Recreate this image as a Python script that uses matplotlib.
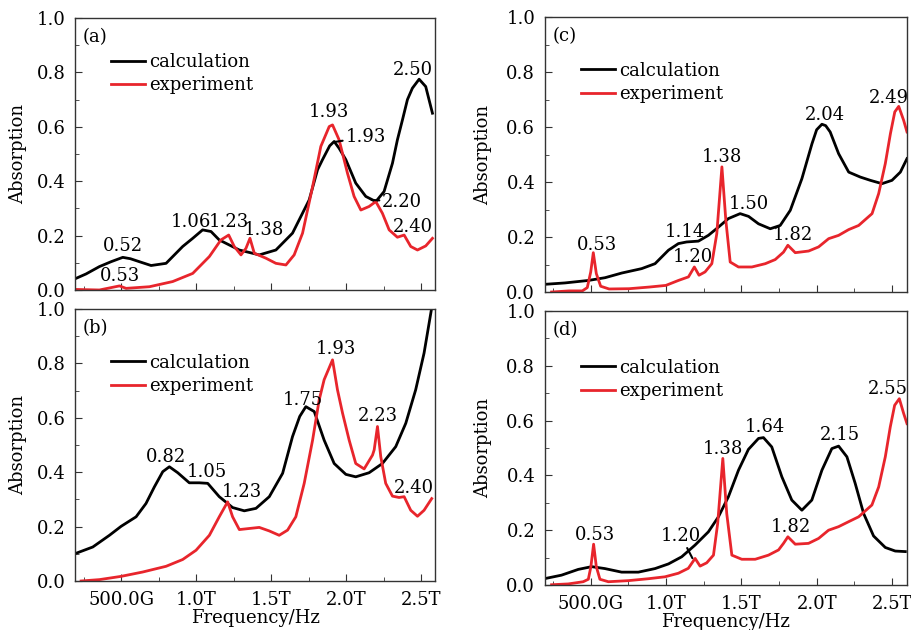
import matplotlib
matplotlib.use("Agg")
import matplotlib.pyplot as plt
from matplotlib.ticker import MultipleLocator, FuncFormatter

plt.rcParams["font.family"] = ["DejaVu Serif"]

RED = "#e8252c"

# (a)
a_calc_x = [0.198, 0.264, 0.353, 0.431, 0.509, 0.56, 0.62, 0.698, 0.798, 0.909, 0.976, 1.042,
            1.098, 1.153, 1.287, 1.42, 1.531, 1.642, 1.753, 1.809, 1.842, 1.89, 1.92, 1.953,
            1.998, 2.064, 2.131, 2.198, 2.253, 2.309, 2.342, 2.376, 2.409, 2.442, 2.487, 2.531,
            2.576]
a_calc_y = [0.043, 0.059, 0.086, 0.104, 0.12, 0.115, 0.104, 0.09, 0.098, 0.16, 0.19, 0.221,
            0.215, 0.184, 0.147, 0.129, 0.147, 0.209, 0.331, 0.442, 0.479, 0.53, 0.546, 0.521,
            0.479, 0.393, 0.344, 0.325, 0.362, 0.466, 0.552, 0.626, 0.70, 0.742, 0.775, 0.748,
            0.65]
a_exp_x = [0.198, 0.353, 0.487, 0.531, 0.687, 0.842, 0.976, 1.087, 1.164, 1.216, 1.253, 1.298,
           1.331, 1.358, 1.387, 1.464, 1.531, 1.598, 1.653, 1.709, 1.776, 1.831, 1.887, 1.909,
           1.953, 2.009, 2.053, 2.098, 2.153, 2.198, 2.242, 2.287, 2.342, 2.387, 2.431, 2.476,
           2.531, 2.576]
a_exp_y = [0.002, 0.0, 0.015, 0.006, 0.012, 0.031, 0.061, 0.123, 0.184, 0.202, 0.16, 0.129,
           0.153, 0.19, 0.135, 0.117, 0.098, 0.092, 0.129, 0.209, 0.38, 0.528, 0.601, 0.607,
           0.552, 0.429, 0.344, 0.294, 0.307, 0.325, 0.282, 0.221, 0.194, 0.202, 0.16, 0.147,
           0.162, 0.19]

# (b)
b_calc_x = [0.193, 0.309, 0.42, 0.498, 0.598, 0.664, 0.72, 0.776, 0.82, 0.876, 0.953, 1.02,
            1.076, 1.153, 1.242, 1.32, 1.398, 1.487, 1.576, 1.642, 1.69, 1.731, 1.787, 1.853,
            1.92, 1.998, 2.064, 2.153, 2.242, 2.331, 2.398, 2.464, 2.52, 2.569]
b_calc_y = [0.101, 0.125, 0.168, 0.201, 0.236, 0.285, 0.346, 0.402, 0.42, 0.398, 0.361, 0.361,
            0.359, 0.31, 0.27, 0.258, 0.267, 0.31, 0.396, 0.531, 0.605, 0.641, 0.623, 0.518,
            0.432, 0.392, 0.383, 0.398, 0.432, 0.494, 0.58, 0.703, 0.838, 0.998]
b_exp_x = [0.231, 0.353, 0.498, 0.642, 0.798, 0.909, 0.998, 1.087, 1.153, 1.209, 1.242, 1.287,
           1.353, 1.42, 1.487, 1.553, 1.609, 1.664, 1.72, 1.776, 1.82, 1.853, 1.909, 1.942,
           1.976, 2.02, 2.064, 2.12, 2.176, 2.187, 2.209, 2.231, 2.264, 2.309, 2.353, 2.387,
           2.431, 2.476, 2.52, 2.571]
b_exp_y = [0.0, 0.005, 0.017, 0.033, 0.054, 0.079, 0.113, 0.168, 0.236, 0.291, 0.236, 0.189,
           0.193, 0.197, 0.184, 0.168, 0.187, 0.236, 0.359, 0.518, 0.666, 0.74, 0.813, 0.703,
           0.617, 0.518, 0.432, 0.412, 0.463, 0.482, 0.568, 0.457, 0.359, 0.312, 0.307, 0.31,
           0.26, 0.238, 0.26, 0.303]

# (c)
c_calc_x = [0.196, 0.329, 0.484, 0.595, 0.706, 0.838, 0.927, 1.016, 1.082, 1.137, 1.215, 1.281,
            1.348, 1.414, 1.492, 1.548, 1.614, 1.692, 1.758, 1.825, 1.902, 1.969, 2.0, 2.035,
            2.06, 2.09, 2.146, 2.213, 2.29, 2.357, 2.434, 2.5, 2.556, 2.6]
c_calc_y = [0.028, 0.033, 0.042, 0.052, 0.069, 0.085, 0.103, 0.152, 0.176, 0.182, 0.185, 0.206,
            0.236, 0.267, 0.285, 0.275, 0.248, 0.23, 0.242, 0.297, 0.412, 0.539, 0.59, 0.61,
            0.605, 0.582, 0.503, 0.436, 0.418, 0.406, 0.394, 0.406, 0.436, 0.485]
c_exp_x = [0.24, 0.356, 0.444, 0.477, 0.5, 0.517, 0.537, 0.566, 0.622, 0.755, 0.888, 0.999,
           1.082, 1.149, 1.188, 1.219, 1.259, 1.304, 1.337, 1.371, 1.397, 1.426, 1.481, 1.57,
           1.659, 1.725, 1.78, 1.809, 1.858, 1.947, 2.013, 2.08, 2.146, 2.213, 2.279, 2.368,
           2.412, 2.456, 2.49, 2.519, 2.545, 2.578, 2.6]
c_exp_y = [0.0, 0.004, 0.004, 0.016, 0.073, 0.143, 0.067, 0.021, 0.011, 0.012, 0.018, 0.024,
           0.042, 0.055, 0.091, 0.061, 0.073, 0.103, 0.212, 0.455, 0.261, 0.109, 0.091, 0.091,
           0.103, 0.118, 0.145, 0.17, 0.143, 0.149, 0.164, 0.194, 0.206, 0.227, 0.242, 0.285,
           0.358, 0.467, 0.576, 0.655, 0.675, 0.624, 0.582]

# (d)
d_calc_x = [0.2, 0.306, 0.417, 0.506, 0.594, 0.705, 0.816, 0.927, 1.016, 1.104, 1.193, 1.281,
            1.348, 1.414, 1.481, 1.547, 1.614, 1.647, 1.702, 1.769, 1.835, 1.902, 1.968, 2.035,
            2.101, 2.146, 2.201, 2.256, 2.312, 2.378, 2.456, 2.522, 2.589]
d_calc_y = [0.024, 0.036, 0.057, 0.067, 0.06, 0.047, 0.047, 0.06, 0.077, 0.103, 0.146, 0.194,
            0.249, 0.322, 0.419, 0.495, 0.535, 0.538, 0.504, 0.395, 0.31, 0.273, 0.31, 0.419,
            0.498, 0.507, 0.468, 0.371, 0.261, 0.179, 0.137, 0.124, 0.122]
d_exp_x = [0.24, 0.351, 0.45, 0.484, 0.501, 0.519, 0.537, 0.561, 0.617, 0.75, 0.883, 0.993,
           1.082, 1.148, 1.193, 1.226, 1.27, 1.315, 1.343, 1.377, 1.403, 1.437, 1.503, 1.592,
           1.68, 1.747, 1.78, 1.809, 1.858, 1.946, 2.013, 2.079, 2.146, 2.212, 2.279, 2.367,
           2.412, 2.456, 2.489, 2.518, 2.549, 2.578, 2.6]
d_exp_y = [0.001, 0.004, 0.012, 0.021, 0.067, 0.149, 0.067, 0.021, 0.012, 0.016, 0.023, 0.03,
           0.043, 0.061, 0.097, 0.069, 0.081, 0.109, 0.225, 0.462, 0.261, 0.109, 0.094, 0.094,
           0.109, 0.128, 0.152, 0.176, 0.149, 0.152, 0.17, 0.2, 0.213, 0.231, 0.249, 0.292,
           0.358, 0.468, 0.577, 0.656, 0.68, 0.626, 0.589]

# peak labels: (text, x, y)
a_labels = [("0.52", 0.509, 0.16), ("0.53", 0.49, 0.05), ("1.06", 0.964, 0.25),
            ("1.23", 1.22, 0.25), ("1.38", 1.453, 0.22), ("1.93", 1.887, 0.653),
            ("2.40", 2.442, 0.233), ("2.50", 2.442, 0.81)]
b_labels = [("0.82", 0.798, 0.457), ("1.05", 1.069, 0.40), ("1.23", 1.304, 0.328),
            ("1.75", 1.709, 0.666), ("1.93", 1.931, 0.853), ("2.23", 2.215, 0.607),
            ("2.40", 2.449, 0.343)]
c_labels = [("0.53", 0.544, 0.17), ("1.14", 1.122, 0.218), ("1.20", 1.175, 0.127),
            ("1.38", 1.371, 0.491), ("1.50", 1.552, 0.321), ("1.82", 1.842, 0.206),
            ("2.04", 2.057, 0.645), ("2.49", 2.483, 0.705)]
d_labels = [("0.53", 0.529, 0.182), ("1.38", 1.377, 0.498), ("1.64", 1.658, 0.577),
            ("2.15", 2.157, 0.547), ("1.82", 1.829, 0.213), ("2.55", 2.473, 0.717)]

# labels with a leader line: (text, point, text position, horizontal alignment)
a_leaders = [("1.93", (1.92, 0.544), (1.995, 0.562), "left"),
             ("2.20", (2.17, 0.331), (2.24, 0.325), "left")]
d_leaders = [("1.20", (1.175, 0.098), (1.1, 0.178), "center")]

FS = 13


def fmt_freq(v, pos):
    if abs(v - 0.5) < 1e-6:
        return "500.0G"
    return f"{v:.1f}T"


fig = plt.figure(figsize=(9.11, 6.3), dpi=100)

panels = [
    ("(a)", [0.0823, 0.5397, 0.3952, 0.4317], a_calc_x, a_calc_y, a_exp_x, a_exp_y,
     a_labels, a_leaders, (0.19, 2.593), 0.872, False, 6.5),
    ("(b)", [0.0823, 0.0778, 0.3952, 0.4317], b_calc_x, b_calc_y, b_exp_x, b_exp_y,
     b_labels, [], (0.19, 2.593), 0.836, True, 6.5),
    ("(c)", [0.5982, 0.5365, 0.3974, 0.4365], c_calc_x, c_calc_y, c_exp_x, c_exp_y,
     c_labels, [], (0.196, 2.6), 0.838, False, 10),
    ("(d)", [0.5982, 0.0714, 0.3974, 0.4349], d_calc_x, d_calc_y, d_exp_x, d_exp_y,
     d_labels, d_leaders, (0.196, 2.6), 0.826, True, 10),
]

for tag, rect, cx, cy, ex, ey, labels, leaders, xlim, leg_y, bottom, ypad in panels:
    ax = fig.add_axes(rect)
    ax.plot(cx, cy, color="black", lw=2, label="calculation")
    ax.plot(ex, ey, color=RED, lw=2, label="experiment")
    ax.set_xlim(*xlim)
    ax.set_ylim(0, 1.0)
    ax.xaxis.set_major_locator(MultipleLocator(0.5))
    ax.xaxis.set_minor_locator(MultipleLocator(0.25))
    ax.yaxis.set_major_locator(MultipleLocator(0.2))
    ax.yaxis.set_minor_locator(MultipleLocator(0.1))
    ax.yaxis.set_major_formatter(FuncFormatter(lambda v, p: f"{v:.1f}"))
    ax.tick_params(which="both", direction="in", labelsize=FS, color="#333333")
    ax.tick_params(which="major", length=5)
    ax.tick_params(which="minor", length=3)
    ax.tick_params(axis="y", which="major", pad=7)
    ax.tick_params(axis="x", which="major", pad=7)
    for s in ax.spines.values():
        s.set_color("#333333")
        s.set_linewidth(1.0)
    if bottom:
        ax.xaxis.set_major_formatter(FuncFormatter(fmt_freq))
        ax.set_xlabel("Frequency/Hz", fontsize=FS, labelpad=0)
    else:
        ax.set_xticklabels([])
    ax.set_ylabel("Absorption", fontsize=FS, labelpad=ypad)
    ax.text(0.02, 0.93, tag, transform=ax.transAxes, fontsize=FS, va="center", ha="left")
    ax.legend(loc="upper left", bbox_to_anchor=(0.1, leg_y), frameon=False, fontsize=FS,
              handlelength=1.9, handletextpad=0.2, labelspacing=0.3, borderpad=0,
              borderaxespad=0)
    for txt, x, y in labels:
        ax.text(x, y, txt, fontsize=FS, ha="center", va="center")
    for txt, p0, p1, ha in leaders:
        ax.annotate(txt, xy=p0, xytext=p1, fontsize=FS, va="center", ha=ha,
                    arrowprops=dict(arrowstyle="-", color="black", lw=1.5,
                                    shrinkA=0, shrinkB=0))

fig.savefig("out.png", dpi=100)
